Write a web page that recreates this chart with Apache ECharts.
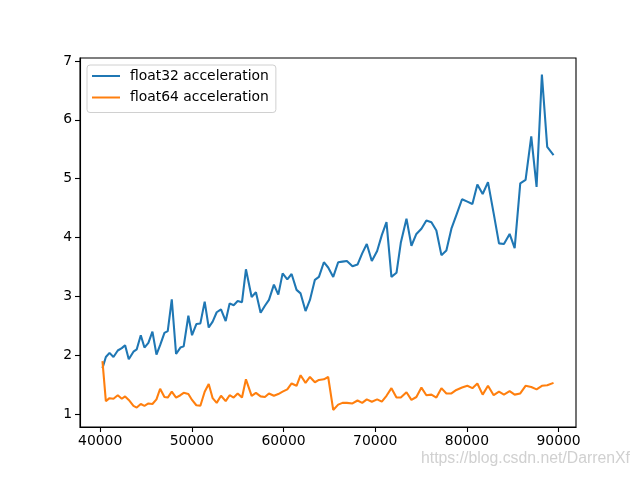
<!DOCTYPE html>
<html>
<head>
<meta charset="utf-8">
<script src="https://cdn.jsdelivr.net/npm/echarts@6/dist/echarts.min.js"></script>
<style>html,body{margin:0;padding:0;background:#fff}#c{width:640px;height:480px}</style>
</head>
<body>
<div id="c"></div>
<script>
var xs = [40250,40620,41020,41450,41920,42360,42720,43120,43630,43990,44430,44830,45260,45700,46140,46540,47010,47370,47810,48280,48750,49110,49620,50020,50490,50930,51400,51840,52270,52710,53180,53690,54120,54560,55000,55470,55900,
56520,56990,57500,57970,58410,58950,59430,59900,60410,60880,61420,61860,62400,62880,63420,63860,64400,64870,65420,65960,66430,66910,67520,68070,68580,69080,69630,70210,70720,71230,71770,72320,
72790,73410,73950,74490,75040,75580,76130,76670,77220,77760,78310,78850,79470,80050,80600,81140,81720,82300,82920,83500,84040,84660,85210,85820,86400,87020,87600,88180,88760,89450];
var float32Acc = [1.78,1.97,2.04,1.97,2.08,2.12,2.17,1.93,2.06,2.10,2.34,2.13,2.21,2.40,2.01,2.17,2.38,2.41,2.95,2.02,2.13,2.15,2.67,2.34,2.53,2.54,2.91,2.47,2.57,2.73,2.78,2.58,2.88,2.85,2.92,2.90,3.46,
2.99,3.07,2.72,2.84,2.94,3.20,3.03,3.39,3.29,3.38,3.11,3.05,2.75,2.94,3.28,3.33,3.58,3.49,3.33,3.58,3.59,3.60,3.51,3.54,3.73,3.89,3.60,3.77,4.04,4.26,3.33,3.40,
3.91,4.32,3.86,4.06,4.15,4.29,4.26,4.12,3.70,3.78,4.15,4.38,4.65,4.61,4.57,4.90,4.74,4.94,4.41,3.90,3.89,4.06,3.82,4.92,4.98,5.72,4.86,6.77,5.54,5.40];
var float64Acc = [1.90,1.22,1.27,1.26,1.32,1.26,1.30,1.24,1.14,1.11,1.17,1.14,1.18,1.17,1.25,1.43,1.29,1.28,1.38,1.28,1.32,1.36,1.34,1.24,1.15,1.14,1.38,1.51,1.27,1.19,1.31,1.22,1.32,1.28,1.35,1.28,1.59,
1.31,1.36,1.30,1.29,1.35,1.31,1.34,1.38,1.42,1.52,1.48,1.66,1.53,1.63,1.54,1.58,1.59,1.63,1.07,1.16,1.19,1.19,1.18,1.23,1.19,1.25,1.21,1.25,1.21,1.31,1.44,1.28,
1.28,1.37,1.24,1.29,1.45,1.32,1.33,1.28,1.44,1.35,1.35,1.41,1.45,1.48,1.44,1.52,1.33,1.48,1.32,1.38,1.33,1.39,1.33,1.35,1.48,1.46,1.42,1.48,1.49,1.53];
var seriesNames = ['float32 acceleration', 'float64 acceleration'];
var xTicks = [40000,50000,60000,70000,80000,90000];
var yTicks = [1,2,3,4,5,6,7];

function pairs(ys){ return xs.map(function(x,i){ return [x, ys[i]]; }); }

var chart = echarts.init(document.getElementById('c'), null, {renderer:'canvas'});
var font = 'DejaVu Sans';
chart.setOption({
  animation: false,
  backgroundColor: '#ffffff',
  grid: {left: 80, top: 58, width: 496, height: 369, show: true, borderColor: '#000', borderWidth: 1.1, backgroundColor: 'transparent'},
  xAxis: {
    type: 'value', min: 37800, max: 91900,
    axisLine: {show: true, onZero: false, lineStyle: {color: '#000', width: 1.1}},
    axisTick: {show: true, length: 5, customValues: xTicks, lineStyle: {color: '#000', width: 1.1}},
    axisLabel: {customValues: xTicks, color: '#000', fontSize: 13.9, fontFamily: font, margin: 7,
      formatter: function(v){ return String(v); }},
    splitLine: {show: false}
  },
  yAxis: {
    type: 'value', min: 0.78, max: 7.05,
    axisLine: {show: true, onZero: false, lineStyle: {color: '#000', width: 1.1}},
    axisTick: {show: true, length: 5, customValues: yTicks, lineStyle: {color: '#000', width: 1.1}},
    axisLabel: {customValues: yTicks, color: '#000', fontSize: 13.9, fontFamily: font, margin: 8,
      formatter: function(v){ return String(v); }},
    splitLine: {show: false}
  },
  legend: {
    orient: 'vertical', left: 87, top: 65,
    data: seriesNames.map(function(n){ return {name: n, icon: 'rect'}; }),
    itemWidth: 28, itemHeight: 2, itemGap: 7.5,
    padding: [4, 7, 8, 5],
    backgroundColor: '#fff', borderColor: '#d0d0d0', borderWidth: 1, borderRadius: 3,
    textStyle: {color: '#000', fontSize: 13.9, fontFamily: font, padding: [0, 0, 0, 5]}
  },
  graphic: [{
    type: 'text', left: 421, top: 451, silent: true,
    style: {text: 'https://blog.csdn.net/DarrenXf', fill: 'rgba(200,200,200,0.85)', font: '15.8px "Liberation Sans"'}
  }],
  series: [
    {name: seriesNames[0], type: 'line', data: pairs(float32Acc), symbol: 'none', color: '#1f77b4', lineStyle: {width: 2.08, color: '#1f77b4'}},
    {name: seriesNames[1], type: 'line', data: pairs(float64Acc), symbol: 'none', color: '#ff7f0e', lineStyle: {width: 2.08, color: '#ff7f0e'}}
  ]
});
</script>
</body>
</html>
